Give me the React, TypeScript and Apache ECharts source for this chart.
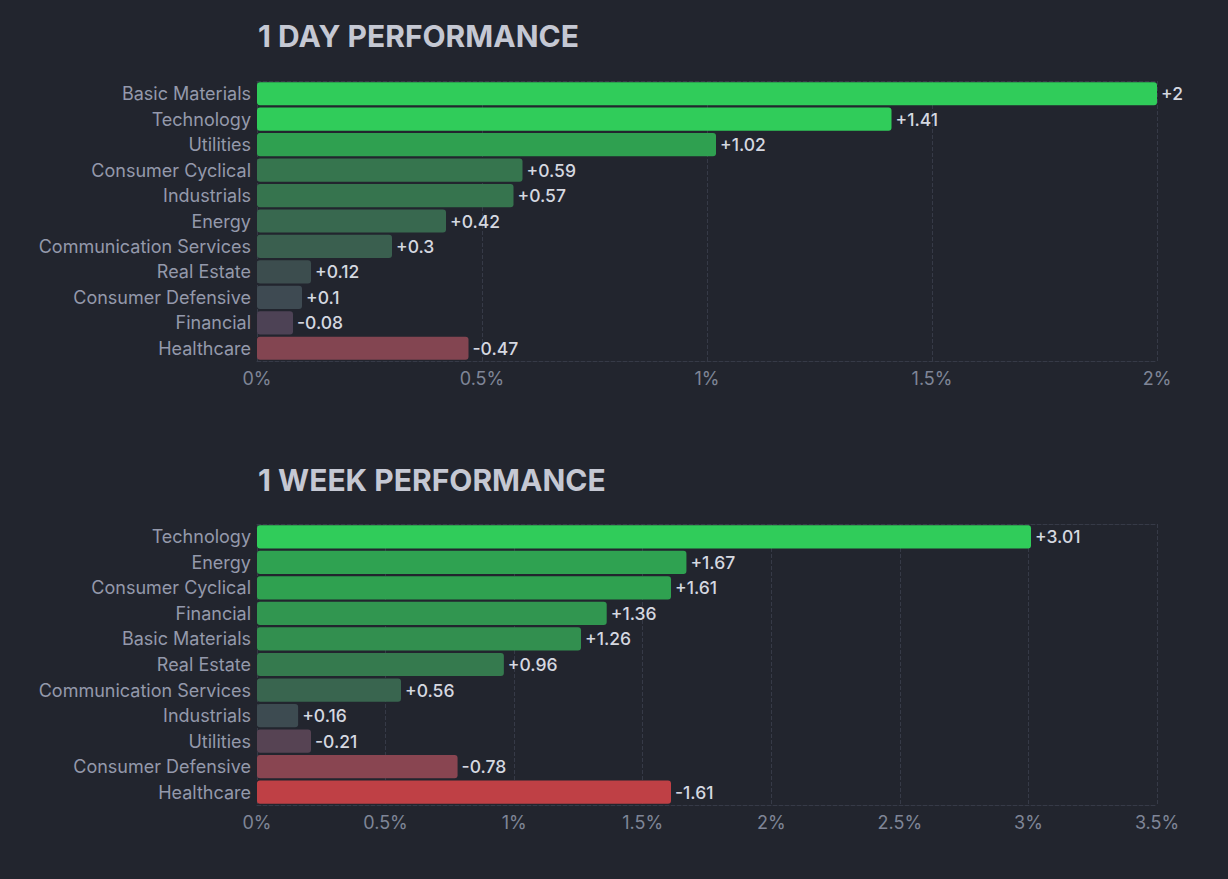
import React, { useEffect, useRef } from "react";
import * as echarts from "echarts";

const dayCategories = [
  "Basic Materials",
  "Technology",
  "Utilities",
  "Consumer Cyclical",
  "Industrials",
  "Energy",
  "Communication Services",
  "Real Estate",
  "Consumer Defensive",
  "Financial",
  "Healthcare",
];
const dayValues = [2, 1.41, 1.02, 0.59, 0.57, 0.42, 0.3, 0.12, 0.1, -0.08, -0.47];

const weekCategories = [
  "Technology",
  "Energy",
  "Consumer Cyclical",
  "Financial",
  "Basic Materials",
  "Real Estate",
  "Communication Services",
  "Industrials",
  "Utilities",
  "Consumer Defensive",
  "Healthcare",
];
const weekValues = [3.01, 1.67, 1.61, 1.36, 1.26, 0.96, 0.56, 0.16, -0.21, -0.78, -1.61];

const dayTicks = { max: 2, interval: 0.5 };
const weekTicks = { max: 3.5, interval: 0.5 };

// colour scale (normalised change -> colour)
const colorStops: [number, string][] = [
  [-1, "#bf4045"],
  [-0.5, "#874551"],
  [-0.15, "#584353"],
  [-0.06, "#4a4255"],
  [0, "#414554"],
  [0.1, "#3e4a52"],
  [0.13, "#3b4f4c"],
  [0.3, "#3a5f4f"],
  [0.6, "#36764e"],
  [1.0, "#2fa050"],
  [1.15, "#2fa351"],
  [1.4, "#30cc5a"],
];

function hexToRgb(h: string) {
  const n = parseInt(h.slice(1), 16);
  return [(n >> 16) & 255, (n >> 8) & 255, n & 255];
}
function colorFor(v: number) {
  if (v <= colorStops[0][0]) return colorStops[0][1];
  const last = colorStops[colorStops.length - 1];
  if (v >= last[0]) return last[1];
  for (let i = 0; i < colorStops.length - 1; i++) {
    const [a, ca] = colorStops[i];
    const [b, cb] = colorStops[i + 1];
    if (v >= a && v <= b) {
      const t = (v - a) / (b - a);
      const x = hexToRgb(ca);
      const y = hexToRgb(cb);
      const r = x.map((c, k) => Math.round(c + (y[k] - c) * t));
      return `rgb(${r[0]},${r[1]},${r[2]})`;
    }
  }
  return last[1];
}

const FONT = "Inter, 'Noto Sans', sans-serif";
const gridLine = "#363a47";

function buildPanel(
  idx: number,
  cats: string[],
  vals: number[],
  ticks: { max: number; interval: number },
  scale: number,
  top: number,
  height: number
) {
  const grid = { left: 257, width: 900, top, height, containLabel: false };
  const xAxes = [
    {
      type: "value",
      gridIndex: idx,
      min: 0,
      max: ticks.max,
      interval: ticks.interval,
      axisLine: { show: true, lineStyle: { color: gridLine, type: "dashed", width: 1 } },
      axisTick: { show: false },
      splitLine: { show: true, lineStyle: { color: gridLine, type: "dashed", width: 1 } },
      axisLabel: {
        color: "#7f8597",
        fontSize: 18,
        fontFamily: FONT,
        margin: 8,
        formatter: (v: number) => `${v}%`,
      },
    },
    {
      type: "value",
      gridIndex: idx,
      position: "top",
      min: 0,
      max: ticks.max,
      interval: ticks.interval,
      axisLine: { show: true, lineStyle: { color: gridLine, type: "dashed", width: 1 } },
      axisTick: { show: false },
      axisLabel: { show: false },
      splitLine: { show: false },
    },
  ];
  const yAxis = {
    type: "category",
    gridIndex: idx,
    data: cats,
    inverse: true,
    axisLine: { show: false },
    axisTick: { show: false },
    axisLabel: { color: "#9499ab", fontSize: 18, fontFamily: FONT, margin: 6 },
  };
  const series = {
    type: "bar",
    xAxisIndex: idx * 2,
    yAxisIndex: idx,
    barCategoryGap: "9%",
    data: vals.map((v) => ({
      value: Math.abs(v),
      itemStyle: { color: colorFor(v / scale), borderRadius: 3 },
    })),
    label: {
      show: true,
      position: "right",
      distance: 4,
      color: "#d5d8e0",
      fontSize: 17.5,
      fontWeight: 500,
      fontFamily: FONT,
      formatter: (p: any) => {
        const v = vals[p.dataIndex];
        return v > 0 ? `+${v}` : `${v}`;
      },
    },
  };
  return { grid, xAxes, yAxis, series };
}

export default function App() {
  const ref = useRef<HTMLDivElement>(null);
  useEffect(() => {
    document.body.style.margin = "0";
    if (!ref.current) return;
    const chart = echarts.init(ref.current, undefined, { renderer: "svg" });
    const p1 = buildPanel(0, dayCategories, dayValues, dayTicks, 1, 81, 280);
    const p2 = buildPanel(1, weekCategories, weekValues, weekTicks, 1.5, 524, 281);
    chart.setOption({
      animation: false,
      backgroundColor: "#22252e",
      title: [
        {
          text: "1 DAY PERFORMANCE",
          left: 253,
          top: 16,
          textStyle: { color: "#c5c8d3", fontSize: 30, fontWeight: 700, fontFamily: FONT },
        },
        {
          text: "1 WEEK PERFORMANCE",
          left: 253,
          top: 460,
          textStyle: { color: "#c5c8d3", fontSize: 30, fontWeight: 700, fontFamily: FONT },
        },
      ],
      grid: [p1.grid, p2.grid],
      xAxis: [...p1.xAxes, ...p2.xAxes],
      yAxis: [p1.yAxis, p2.yAxis],
      series: [p1.series, p2.series],
    });
    return () => chart.dispose();
  }, []);
  return <div ref={ref} style={{ width: 1228, height: 879 }} />;
}
